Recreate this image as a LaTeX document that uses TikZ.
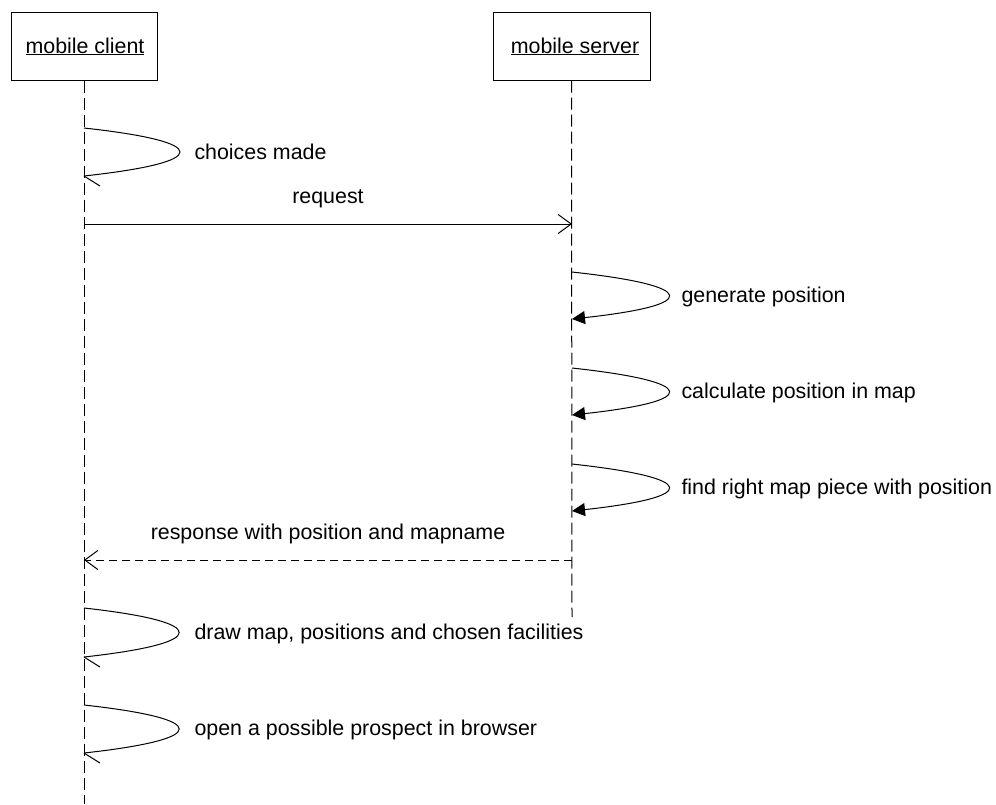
\documentclass[tikz,border=0pt]{standalone}
\usepackage{fontspec}
\setmainfont{Liberation Sans}
\usetikzlibrary{arrows.meta}
\begin{document}
\begin{tikzpicture}[x=1pt,y=-1pt,line width=1pt,
  every node/.style={font=\fontsize{21.4}{25}\selectfont},
  obj/.style={draw,minimum width=146pt,minimum height=68pt,inner sep=0pt},
  lifeline/.style={dash pattern=on 12pt off 5pt},
  lbl/.style={inner sep=0pt,anchor=base west},
  mlbl/.style={inner sep=0pt,anchor=base},
  openhead/.style={-{Straight Barb[length=13pt,width=19pt]}},
  fillhead/.style={-{Triangle[length=13pt,width=13pt]}},
  respline/.style={dash pattern=on 8pt off 5pt}]
\useasboundingbox (0,0) rectangle (996,804);
% objects
\node[obj] (client) at (84,46) {};
\node[mlbl] (clientlbl) at (85,53) {\underline{mobile client}};
\node[obj,minimum width=157pt] (server) at (571.5,46) {};
\node[mlbl] (serverlbl) at (575,53) {\underline{mobile server}};
% lifelines
\coordinate (cend) at (84,804);
\coordinate (send) at (572,617);
\draw[lifeline] (client.south) -- (cend);
\draw[lifeline] (server.south) -- (send);
% client loop 1
\coordinate (c1s) at (84,128);
\coordinate (c1e) at (84,176);
\draw (c1s) .. controls (212,142) and (212,162) .. (c1e);
\draw (c1e) -- ++(16,10);
\node[lbl] (t1) at (194,159) {choices made};
% request
\coordinate (rqs) at (84,224);
\coordinate (rqe) at (572,224);
\draw[openhead] (rqs) -- (rqe);
\node[mlbl] (t2) at (328,203) {request};
% server loops
\coordinate (s1s) at (572,272);
\coordinate (s1e) at (572,319);
\draw[fillhead] (s1s) .. controls (700,286) and (700,305) .. (s1e);
\node[lbl] (t3) at (681,302) {generate position};
\coordinate (s2s) at (572,368);
\coordinate (s2e) at (572,415);
\draw[fillhead] (s2s) .. controls (700,382) and (700,401) .. (s2e);
\node[lbl] (t4) at (681,398) {calculate position in map};
\coordinate (s3s) at (572,464);
\coordinate (s3e) at (572,511);
\draw[fillhead] (s3s) .. controls (700,478) and (700,497) .. (s3e);
\node[lbl] (t5) at (681,494) {find right map piece with position};
% response
\coordinate (rps) at (572,560);
\coordinate (rpe) at (84,560);
\draw[respline,openhead] (rps) -- (rpe);
\node[mlbl] (t6) at (328,539) {response with position and mapname};
% client loop 2
\coordinate (c2s) at (84,608);
\coordinate (c2e) at (84,657);
\draw (c2s) .. controls (211,622) and (211,643) .. (c2e);
\draw (c2e) -- ++(16,10);
\node[lbl] (t7) at (194,639) {draw map, positions and chosen facilities};
% client loop 3
\coordinate (c3s) at (84,705);
\coordinate (c3e) at (84,753);
\draw (c3s) .. controls (211,719) and (211,739) .. (c3e);
\draw (c3e) -- ++(16,10);
\node[lbl] (t8) at (194,735) {open a possible prospect in browser};
\end{tikzpicture}
\end{document}
